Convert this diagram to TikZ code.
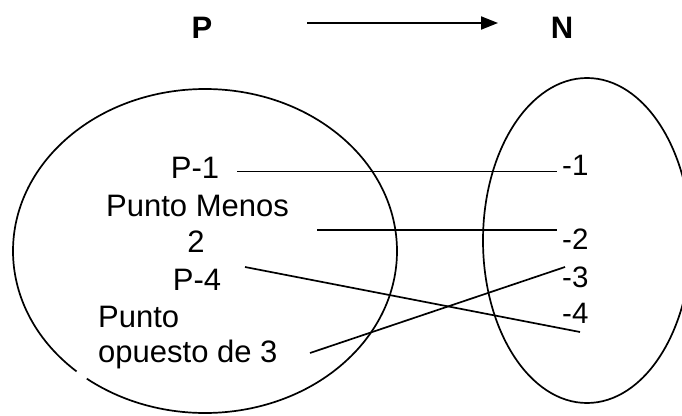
\documentclass[tikz,border=0pt]{standalone}
\usepackage{fontspec}
\setmainfont{Liberation Sans}
\usetikzlibrary{arrows.meta}

\tikzset{
  lbl/.style={inner sep=0pt, anchor=base, font=\fontsize{31}{36}\selectfont},
  lblw/.style={lbl, anchor=base west},
  nlbl/.style={inner sep=0pt, anchor=base west, font=\fontsize{29.5}{34}\selectfont},
  head/.style={lbl, font=\fontsize{31}{36}\selectfont\bfseries},
  setline/.style={line width=1.7pt},
  maplink/.style={line width=1.7pt},
  maparrow/.style={line width=2pt, -{Triangle[length=17pt,width=13pt]}}
}

\begin{document}
\begin{tikzpicture}[x=1pt,y=-1pt]
  \useasboundingbox (0,0) rectangle (682,415);
  \begin{scope}
    \clip (0,0) rectangle (682,415);

    % heading: P maps to N
    \node[head] (hp) at (202,38) {P};
    \node[head] (hn) at (562,38) {N};
    \coordinate (arrs) at (307,23);
    \coordinate (arre) at (498,23);
    \draw[maparrow] (arrs) -- (arre);

    % the two sets
    \draw[setline] ([shift={(132:192 and 162)}]205,251)
      arc[start angle=132, end angle=488, x radius=192, y radius=162];
    \draw[setline] (587,240.5) ellipse[x radius=104, y radius=162.5];

    % elements of P
    \node[lbl]  (p1)  at (195,178) {P-1};
    \node[lbl]  (pm)  at (197.5,216) {Punto Menos};
    \node[lbl]  (dos) at (196,252) {2};
    \node[lbl]  (p4)  at (197,290) {P-4};
    \node[lblw] (pu)  at (98,327) {Punto};
    \node[lblw] (op)  at (98,362) {opuesto de 3};

    % elements of N
    \node[nlbl] (m1) at (562,175) {-1};
    \node[nlbl] (m2) at (562,249) {-2};
    \node[nlbl] (m3) at (562,287) {-3};
    \node[nlbl] (m4) at (562,323) {-4};

    % connector end points
    \coordinate (a1) at (237,171.5);
    \coordinate (b1) at (557,171.5);
    \coordinate (a2) at (317,230);
    \coordinate (b2) at (557,230);
    \coordinate (a3) at (245,267);
    \coordinate (b3) at (580,332);
    \coordinate (a4) at (310,353);
    \coordinate (b4) at (565,267);

    % the mapping
    \draw[maplink] (a1) -- (b1);
    \draw[maplink] (a2) -- (b2);
    \draw[maplink] (a3) -- (b3);
    \draw[maplink] (a4) -- (b4);
  \end{scope}
\end{tikzpicture}
\end{document}
